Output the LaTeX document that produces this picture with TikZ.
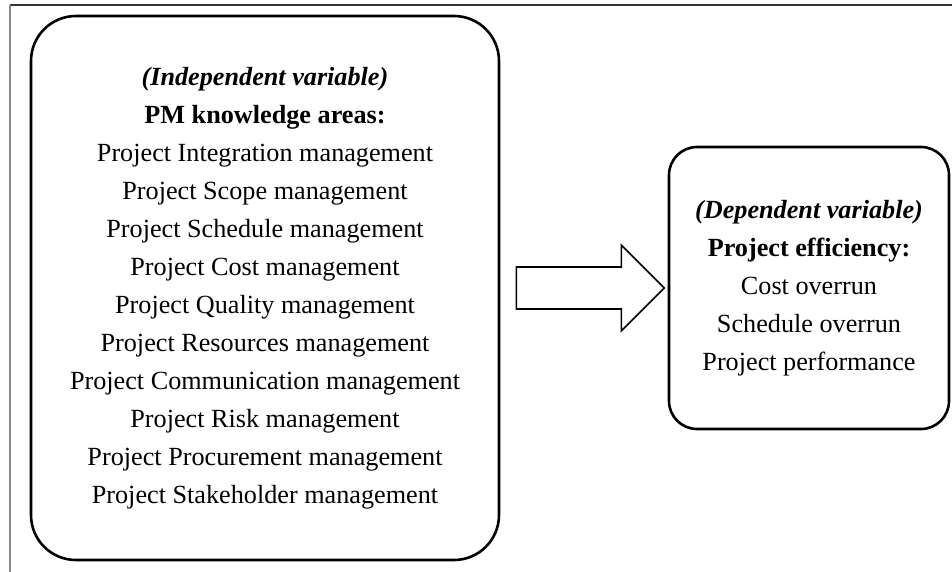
\documentclass[tikz,border=0pt]{standalone}
\usepackage{fontspec}
\setmainfont{Liberation Serif}
\begin{document}
\begin{tikzpicture}[x=1pt,y=-1pt]
\tikzstyle{varbox}=[draw,line width=2.6pt,align=center,inner sep=0pt,font=\fontsize{26.2}{38}\selectfont]
\tikzstyle{frame}=[line width=1.6pt]
\useasboundingbox (0,0) rectangle (952,572);
\draw[frame,black!80] (10,5) -- (952,5);
\draw[frame,black!45] (10,5) -- (10,572);
\node[varbox,rounded corners=45pt,minimum width=468pt,minimum height=544pt] (iv) at (265,288)
  {\textbf{\textit{(Independent variable)}}\\
   \textbf{PM knowledge areas:}\\
   Project Integration management\\
   Project Scope management\\
   Project Schedule management\\
   Project Cost management\\
   Project Quality management\\
   Project Resources management\\
   Project Communication management\\
   Project Risk management\\
   Project Procurement management\\
   Project Stakeholder management};
\node[varbox,rounded corners=28pt,minimum width=280pt,minimum height=282pt] (dv) at (809,288)
  {\textbf{\textit{(Dependent variable)}}\\
   \textbf{Project efficiency:}\\
   Cost overrun\\
   Schedule overrun\\
   Project performance};
\draw[line width=1.6pt] ([xshift=16pt]iv.east) ++(0,-21) -- ++(105,0) -- ++(0,-22) -- ++(43,43)
  -- ++(-43,43) -- ++(0,-22) -- ++(-105,0) -- cycle;
\end{tikzpicture}
\end{document}
